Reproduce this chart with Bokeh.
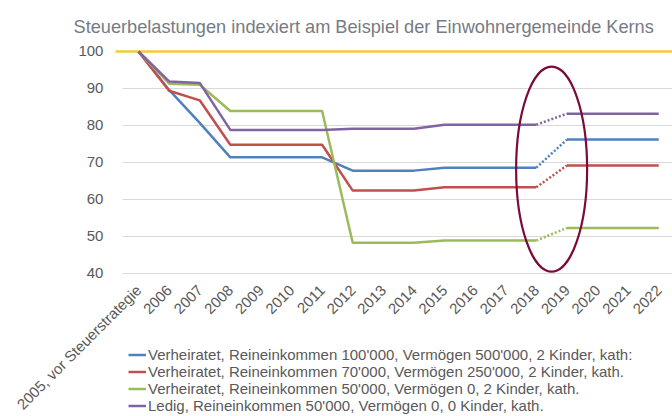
from bokeh.plotting import figure
from bokeh.models import Range1d, FixedTicker, Legend, LegendItem, Label
from bokeh.embed import file_html
from bokeh.resources import INLINE
import math

# ---------------- data ----------------
title_text = "Steuerbelastungen indexiert am Beispiel der Einwohnergemeinde Kerns"

categories = ["2005, vor Steuerstrategie", "2006", "2007", "2008", "2009", "2010",
              "2011", "2012", "2013", "2014", "2015", "2016", "2017", "2018",
              "2019", "2020", "2021", "2022"]

series_names = [
    "Verheiratet, Reineinkommen 100'000, Vermögen 500'000, 2 Kinder, kath:",
    "Verheiratet, Reineinkommen 70'000, Vermögen 250'000, 2 Kinder, kath.",
    "Verheiratet, Reineinkommen 50'000, Vermögen 0, 2 Kinder, kath.",
    "Ledig, Reineinkommen 50'000, Vermögen 0, 0 Kinder, kath.",
]

blue = [100, 89.6, 80.7, 71.4, 71.4, 71.4, 71.4, 67.8, 67.8, 67.8, 68.6, 68.6, 68.6, 68.6, 76.2, 76.2, 76.2, 76.2]
red = [100, 89.4, 86.8, 74.8, 74.8, 74.8, 74.8, 62.4, 62.4, 62.4, 63.3, 63.3, 63.3, 63.3, 69.2, 69.2, 69.2, 69.2]
green = [100, 91.3, 91.0, 83.9, 83.9, 83.9, 83.9, 48.3, 48.3, 48.3, 48.9, 48.9, 48.9, 48.9, 52.3, 52.3, 52.3, 52.3]
purple = [100, 91.9, 91.5, 78.8, 78.8, 78.8, 78.8, 79.1, 79.1, 79.1, 80.2, 80.2, 80.2, 80.2, 83.2, 83.2, 83.2, 83.2]

reference_level = 100
y_ticks = [40, 50, 60, 70, 80, 90, 100]

# ---------------- styling / layout ----------------
colors = ["#4F81BD", "#C0504D", "#9BBB59", "#8064A2"]
ref_color = "#F2CB35"
ellipse_color = "#7A0C3A"
text_color = "#595959"
title_color = "#767B84"
grid_color = "#D9D9D9"
FONT = "Liberation Sans"

X_START, X_END = -4.51, 17.45      # visible x range (category index units)
Y_START, Y_END = 1.35, 113.78
YAXIS_AT = -0.72                   # where the value labels hang
GRID_FROM = -0.52                  # gridlines start
REF_FROM = -0.75                   # 100-line start

x_idx = list(range(len(categories)))
split_a = categories.index("2018")
split_b = categories.index("2019")

W, H = 672, 416
p = figure(width=W, height=H, output_backend="svg", toolbar_location=None,
           x_range=Range1d(X_START, X_END), y_range=Range1d(Y_START, Y_END),
           min_border_left=0, min_border_right=0, min_border_top=0,
           min_border_bottom=0)

p.outline_line_color = None
p.background_fill_color = "white"
p.border_fill_color = "white"

# title (placed in screen units inside the full-page frame)
p.add_layout(Label(x=73, y=H - 26, x_units="screen", y_units="screen",
                   text=title_text, text_font=FONT, text_font_size="18.2px",
                   text_color=title_color, text_align="left",
                   text_baseline="alphabetic"))

# axes
p.xaxis.fixed_location = y_ticks[0]
p.xaxis.ticker = FixedTicker(ticks=x_idx)
p.xaxis.major_label_overrides = {i: c for i, c in enumerate(categories)}
p.xaxis.major_label_orientation = math.pi / 4
p.xaxis.major_label_text_font = FONT
p.xaxis.major_label_text_font_size = "15px"
p.xaxis.major_label_text_color = text_color
p.xaxis.axis_line_color = None
p.xaxis.major_tick_line_color = None
p.xaxis.minor_tick_line_color = None
p.xaxis.major_tick_out = 0
p.xaxis.major_label_standoff = 14

p.yaxis.fixed_location = YAXIS_AT
p.yaxis.ticker = FixedTicker(ticks=y_ticks)
p.yaxis.axis_line_color = None
p.yaxis.major_tick_line_color = None
p.yaxis.minor_tick_line_color = None
p.yaxis.major_tick_out = 0
p.yaxis.major_label_standoff = 13
p.yaxis.major_label_text_font = FONT
p.yaxis.major_label_text_font_size = "15px"
p.yaxis.major_label_text_color = text_color

p.xgrid.grid_line_color = None
p.ygrid.grid_line_color = None

# horizontal gridlines (value ticks)
grid_y = [t for t in y_ticks if t != reference_level]
p.segment(x0=[GRID_FROM] * len(grid_y), x1=[X_END] * len(grid_y),
          y0=grid_y, y1=grid_y, line_color=grid_color, line_width=1)

# reference line at 100
p.segment(x0=[REF_FROM], x1=[X_END], y0=[reference_level], y1=[reference_level],
          line_color=ref_color, line_width=2.5)

items = []
for vals, col, name in zip([blue, red, green, purple], colors, series_names):
    r1 = p.line(x_idx[:split_a + 1], vals[:split_a + 1], line_color=col, line_width=2.5)
    p.line(x_idx[split_a:split_b + 1], vals[split_a:split_b + 1], line_color=col,
           line_width=2.5, line_dash="2 2")
    p.line(x_idx[split_b:], vals[split_b:], line_color=col, line_width=2.5)
    items.append(LegendItem(label=name, renderers=[r1]))

# highlight ellipse around the 2018 -> 2019 step
p.ellipse(x=[(split_a + split_b) / 2], y=[68.2], width=2.32, height=55.4,
          fill_color=None, line_color=ellipse_color, line_width=2.2)

legend = Legend(items=items, location=(128, 2.5), orientation="vertical")
legend.background_fill_alpha = 0
legend.border_line_color = None
legend.padding = 0
legend.margin = 0
legend.spacing = 0
legend.label_height = 17
legend.glyph_height = 17
legend.glyph_width = 18
legend.label_standoff = 2
legend.label_text_font = FONT
legend.label_text_font_size = "15px"
legend.label_text_color = text_color
p.add_layout(legend, "center")

open("out.html", "w").write(file_html(p, INLINE))
